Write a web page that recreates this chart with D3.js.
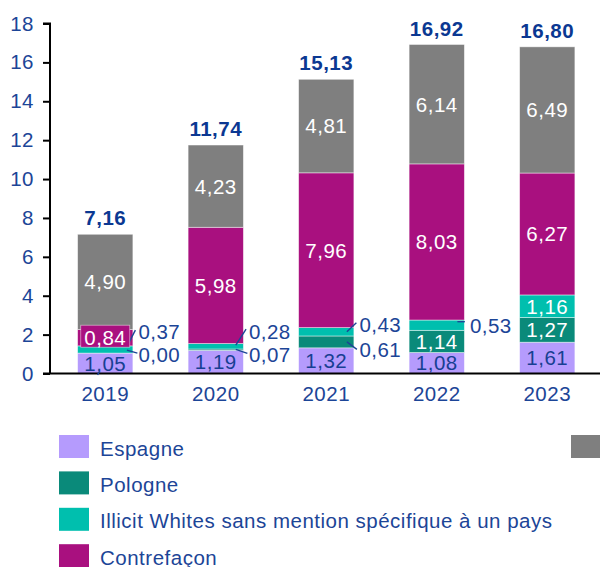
<!DOCTYPE html>
<html>
<head>
<meta charset="utf-8">
<script src="https://cdn.jsdelivr.net/npm/d3@7"></script>
<style>
  html, body { margin: 0; padding: 0; background: #ffffff; }
  svg { display: block; font-family: "Liberation Sans", Arial, sans-serif; }
  svg text { letter-spacing: 0.5px; }
</style>
</head>
<body>
<svg id="chart" width="600" height="567"></svg>
<script>
// ---- data ----
const years = ["2019", "2020", "2021", "2022", "2023"];
const seriesNames = ["Espagne", "Pologne", "Illicit Whites sans mention spécifique à un pays", "Contrefaçon", ""];
const espagne     = [1.05, 1.19, 1.32, 1.08, 1.61];
const pologne     = [0.00, 0.07, 0.61, 1.14, 1.27];
const illicit     = [0.37, 0.28, 0.43, 0.53, 1.16];
const contrefacon = [0.84, 5.98, 7.96, 8.03, 6.27];
const autres      = [4.90, 4.23, 4.81, 6.14, 6.49];
const totals      = [7.16, 11.74, 15.13, 16.92, 16.80];
const yTicks      = [0, 2, 4, 6, 8, 10, 12, 14, 16, 18];

// ---- styling ----
const colors = ["#b59bfd", "#0a8a7a", "#00bfae", "#a9107f", "#7f7f7f"];
const labelColors = ["#173f93", "#ffffff", "#ffffff", "#ffffff", "#ffffff"];
const blue = "#1c4597";
const totalBlue = "#0b3892";
const fs = 20.5;

// labels placed beside the bar, with a short leader line
// (labelDy: offset of the label from the segment middle;
//  from: leader start relative to bar right edge / segment middle;
//  to: leader end relative to label left / label middle)
const outside = {
  "2019|1": { labelDy: 2,     from: [-6, -3],    to: [-1, -2] },
  "2019|2": { labelDy: -17.7, from: [-3.7, -7.4], to: [-3, -1.7] },
  "2020|1": { labelDy: 5.4,   from: [-7.6, -0.3], to: [-1.5, -1.7] },
  "2020|2": { labelDy: -14.5, from: [-7.6, -1.2], to: [-2.8, -2.7] },
  "2021|1": { labelDy: 8.2,   from: [-7, 0],     to: [-2.5, -0.7] },
  "2021|2": { labelDy: -6.7,  from: [-7, 0],     to: [-3, -2.3] },
  "2022|2": { labelDy: 0,     from: [-7, -3.5],  to: [-5, -3.5] }
};

const fmt = v => v.toFixed(2).replace(".", ",");

const svg = d3.select("#chart");

const x = d3.scaleBand().domain(years).range([50, 602.5])
  .paddingInner(0.5).paddingOuter(0.25);
const y = d3.scaleLinear().domain([0, 18]).range([373.5, 23.5]);

// stacked layout
const rows = years.map((yr, i) => ({
  year: yr, s0: espagne[i], s1: pologne[i], s2: illicit[i], s3: contrefacon[i], s4: autres[i]
}));
const keys = ["s0", "s1", "s2", "s3", "s4"];
const stacked = d3.stack().keys(keys)(rows);

// y axis
const yAxis = svg.append("g").attr("transform", "translate(50,0)")
  .call(d3.axisLeft(y).tickValues(yTicks).tickSize(7).tickPadding(9).tickFormat(d3.format("d")));
yAxis.select(".domain").attr("stroke", "#000").attr("stroke-width", 2)
  .attr("d", `M-7,${y(18)}H0V${y(0)}`);
yAxis.selectAll(".tick line").attr("stroke", "#000").attr("stroke-width", 2);
yAxis.selectAll(".tick text").attr("fill", blue).attr("font-size", fs)
  .attr("font-family", "Liberation Sans, Arial, sans-serif");

// bars
const layers = svg.append("g");
stacked.forEach((layer, k) => {
  layers.append("g").selectAll("rect").data(layer).join("rect")
    .attr("x", d => x(d.data.year))
    .attr("width", x.bandwidth())
    .attr("y", d => y(d[1]))
    .attr("height", d => y(d[0]) - y(d[1]))
    .attr("fill", colors[k])
    .attr("stroke", "rgba(255,255,255,0.55)")
    .attr("stroke-width", 0.8);
});

// x axis
const xAxis = svg.append("g").attr("transform", `translate(0,${y(0)})`)
  .call(d3.axisBottom(x).tickSize(0).tickPadding(13));
xAxis.select(".domain").attr("stroke", "#000").attr("stroke-width", 2)
  .attr("d", `M43,0H600`);
xAxis.selectAll(".tick text").attr("fill", blue).attr("font-size", fs)
  .attr("font-family", "Liberation Sans, Arial, sans-serif");

// segment value labels
const lab = svg.append("g").attr("font-size", fs);
stacked.forEach((layer, k) => {
  layer.forEach(d => {
    const yr = d.data.year;
    const v = d[1] - d[0];
    const mid = (y(d[0]) + y(d[1])) / 2;
    const cx = x(yr) + x.bandwidth() / 2;
    const right = x(yr) + x.bandwidth();
    const key = yr + "|" + k;
    if (outside[key]) {
      const o = outside[key];
      const tx = right + 5.5, ty = mid + o.labelDy;
      lab.append("line")
        .attr("x1", right + o.from[0]).attr("y1", mid + o.from[1])
        .attr("x2", tx + o.to[0]).attr("y2", ty + o.to[1])
        .attr("stroke", blue).attr("stroke-width", 1.4);
      lab.append("text").attr("x", tx).attr("y", ty).attr("dy", "0.36em")
        .attr("fill", blue).text(fmt(v));
      return;
    }
    const h = y(d[0]) - y(d[1]);
    if (h < 20) {
      // small segment: label sits on a filled box of the segment colour
      lab.append("rect").attr("x", cx - 24.5).attr("y", mid - 12.5)
        .attr("width", 49).attr("height", 22)
        .attr("fill", colors[k]).attr("stroke", "rgba(255,255,255,0.55)").attr("stroke-width", 0.8);
    }
    lab.append("text").attr("x", cx).attr("y", mid).attr("dy", "0.36em")
      .attr("text-anchor", "middle").attr("fill", labelColors[k]).text(fmt(v));
  });
});

// tiny leader under the first Espagne label
{
  const d = stacked[0][0];
  const cx = x(d.data.year) + x.bandwidth() / 2;
  lab.append("line").attr("x1", cx - 6).attr("y1", y(0) - 2)
    .attr("x2", cx - 7.7).attr("y2", y(0) + 1.5)
    .attr("stroke", blue).attr("stroke-width", 1.4);
}

// totals
svg.append("g").selectAll("text").data(years).join("text")
  .attr("x", d => x(d) + x.bandwidth() / 2)
  .attr("y", (d, i) => y(totals[i]) - 9)
  .attr("text-anchor", "middle")
  .attr("font-size", fs).attr("font-weight", "bold")
  .attr("fill", totalBlue)
  .text((d, i) => fmt(totals[i]));

// legend
const legend = svg.append("g");
const legendRows = [0, 1, 2, 3];
legendRows.forEach((k, r) => {
  const top = 435 + r * 36.4;
  legend.append("rect").attr("x", 59).attr("y", top).attr("width", 30).attr("height", 23)
    .attr("fill", colors[k]);
  legend.append("text").attr("x", 100).attr("y", top + 20.5)
    .attr("font-size", fs).attr("fill", blue).text(seriesNames[k]);
});
legend.append("rect").attr("x", 571).attr("y", 435).attr("width", 30).attr("height", 23)
  .attr("fill", colors[4]);
</script>
</body>
</html>
